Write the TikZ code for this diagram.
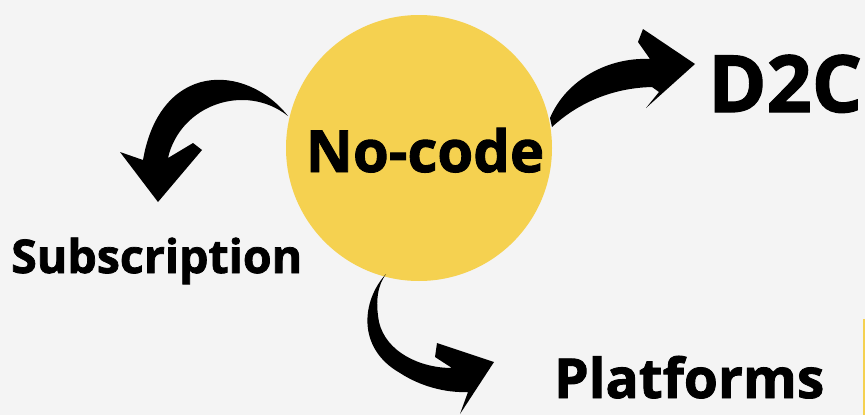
\documentclass[tikz,border=0pt]{standalone}
\usepackage{fontspec}
\setmainfont{Open Sans}[BoldFeatures={FakeBold=1.6}]
\usetikzlibrary{positioning}
\definecolor{bgray}{HTML}{F4F4F4}
\definecolor{sun}{HTML}{F5D150}
\tikzset{
	x=1pt, y=-1pt, % pixel coordinates, y goes down
	every node/.style={inner sep=0pt, font=\bfseries}, % all labels are bold
	label/.style={anchor=base west, text=black}, % outer words
	brush/.style={fill=black, draw=none}, % hand drawn arrows
}

\begin{document}
\begin{tikzpicture}
	\fill[bgray] (0,0) rectangle (865,415);
	\useasboundingbox (0,0) rectangle (865,415);

	\node[circle, fill=sun, minimum size=266pt] (nc) at (419,148) {};
	\node[anchor=base, font=\fontsize{58}{62}\selectfont\bfseries] (nctext) at (425,172) {No-code};
	\node[label, font=\fontsize{79}{84}\selectfont\bfseries] (d2c) at (708,112) {D2C};
	\node[label, font=\fontsize{46.5}{50}\selectfont\bfseries] (sub) at (11,273) {Subscription};
	\node[label, font=\fontsize{55}{60}\selectfont\bfseries] (plat) at (554,398) {Platforms};

	% arrow to D2C
	\fill[brush] (552,127) .. controls (578,103) and (612,88) .. (652,87)
		-- (659,92) -- (646,108) -- (695,64) -- (643,29) -- (638,42) -- (650,59)
		.. controls (608,57) and (566,80) .. (550,118) -- cycle;
	% arrow to Subscription
	\fill[brush] (288,116) .. controls (245,62) and (160,62) .. (143,160)
		-- (120,152) -- (158,202) -- (202,150) -- (193,143) -- (168,158)
		.. controls (180,105) and (245,82) .. (288,116) -- cycle;
	% arrow to Platforms
	\fill[brush] (386,274) .. controls (362,300) and (356,348) .. (400,373)
		.. controls (420,386) and (445,393) .. (468,392)
		-- (460,414) -- (494,362) -- (437,343) -- (435,357) -- (452,368)
		.. controls (420,368) and (386,352) .. (379,322)
		.. controls (375,300) and (378,285) .. (386,274) -- cycle;

	\fill[sun] (863,319) rectangle (865,415);
\end{tikzpicture}
\end{document}
